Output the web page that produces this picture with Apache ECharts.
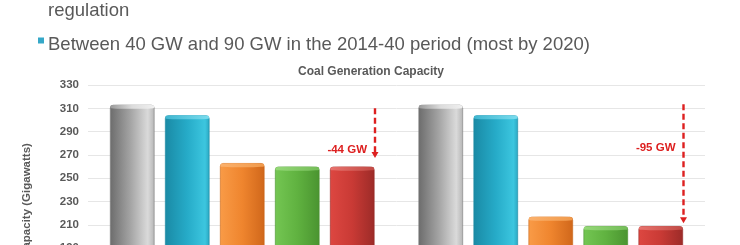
<!DOCTYPE html>
<html>
<head>
<meta charset="utf-8">
<script src="https://cdn.jsdelivr.net/npm/echarts@6/dist/echarts.min.js"></script>
<style>
html,body{margin:0;padding:0;background:#fff;}
#chart{width:740px;height:245px;}
</style>
</head>
<body>
<div id="chart"></div>
<script>
// ---- data ----
const categories = ['Scenario 1', 'Scenario 2'];
const seriesNames = ['Series A', 'Series B', 'Series C', 'Series D', 'Series E'];
const grayValues = [313, 313];
const blueValues = [304, 304];
const orangeValues = [263, 217];
const greenValues = [260, 209];
const redValues = [260, 209];
const yTicks = [190, 210, 230, 250, 270, 290, 310, 330];
const arrowTop = [310, 313.5];
const arrowTip = [267.5, 211.5];
const annotLabelY = [274.5, 276.5];
const annotLabels = ['-44 GW', '-95 GW'];
const chartTitle = 'Coal Generation Capacity';
const yAxisTitle = 'Capacity (Gigawatts)';
const bulletText = 'Between 40 GW and 90 GW in the 2014-40 period (most by 2020)';
const prevLineText = 'regulation';

// ---- styling ----
const FONT = '"Liberation Sans", Arial, Helvetica, sans-serif';
const TXT = '#595959';
const RED = '#dd2020';
const BW = 44.5, GAP = 10.5;

function hgrad(stops) {
  return new echarts.graphic.LinearGradient(0, 0, 1, 0,
    stops.map((c, i) => ({ offset: c[0], color: c[1] })));
}
const palettes = [
  { body: [[0,'#6c6c6c'],[0.45,'#a3a3a3'],[0.85,'#dadada'],[1,'#b5b5b5']], cap: [[0,'#9a9a9a'],[0.5,'#dcdcdc'],[1,'#f0f0f0']], border: '#7a7a7a' },
  { body: [[0,'#1a8aa5'],[0.5,'#26abc8'],[0.9,'#3cc6df'],[1,'#2aa6c1']], cap: [[0,'#3fb6d0'],[1,'#7adcee']], border: '#1a86a0' },
  { body: [[0,'#f99b47'],[0.5,'#ef852e'],[1,'#d0671b']], cap: [[0,'#fbb16c'],[1,'#f09a4c']], border: '#c86418' },
  { body: [[0,'#74c653'],[0.5,'#60b240'],[1,'#4a9430']], cap: [[0,'#95d878'],[1,'#74bd58']], border: '#478f2e' },
  { body: [[0,'#dd4741'],[0.5,'#c93a35'],[1,'#9c2b28']], cap: [[0,'#e8736d'],[1,'#c24a45']], border: '#962826' }
];
const allValues = [grayValues, blueValues, orangeValues, greenValues, redValues];

const barSeries = allValues.map((vals, i) => ({
  name: seriesNames[i],
  type: 'bar',
  data: vals,
  barWidth: BW,
  barGap: (GAP / BW * 100).toFixed(1) + '%',
  itemStyle: {
    color: hgrad(palettes[i].body),
    borderColor: palettes[i].border,
    borderWidth: 0.6,
    borderRadius: [3, 3, 0, 0]
  },
  z: 2
}));

const capSeries = allValues.map((vals, i) => ({
  name: seriesNames[i] + ' cap',
  type: 'pictorialBar',
  data: vals,
  barWidth: BW,
  barGap: (GAP / BW * 100).toFixed(1) + '%',
  symbol: 'roundRect',
  symbolSize: [BW - 1, 4],
  symbolPosition: 'end',
  symbolOffset: [0, 0],
  itemStyle: { color: hgrad(palettes[i].cap) },
  silent: true,
  z: 3,
  tooltip: { show: false }
}));

const arrowSeries = {
  type: 'custom',
  name: 'annotations',
  clip: false,
  z: 5,
  silent: true,
  data: categories.map((c, i) => [i, arrowTop[i], arrowTip[i], annotLabelY[i]]),
  encode: { x: 0, y: 1 },
  renderItem: function (params, api) {
    const cat = api.value(0);
    const top = api.coord([cat, api.value(1)]);
    const tip = api.coord([cat, api.value(2)]);
    const lab = api.coord([cat, api.value(3)]);
    const x = top[0] + 2 * (BW + GAP) + BW / 2 + 0.5;
    return {
      type: 'group',
      children: [
        { type: 'line', shape: { x1: x, y1: top[1], x2: x, y2: tip[1] - 5 },
          style: { stroke: RED, lineWidth: 2.4, lineDash: [6, 3.5] } },
        { type: 'polygon', shape: { points: [[x - 3.5, tip[1] - 6], [x + 3.5, tip[1] - 6], [x, tip[1]]] },
          style: { fill: RED } },
        { type: 'text', x: x - 8, y: lab[1],
          style: { text: annotLabels[params.dataIndex], fill: RED, font: 'bold 11.5px ' + FONT,
                   align: 'right', verticalAlign: 'middle' } }
      ]
    };
  }
};

const chart = echarts.init(document.getElementById('chart'), null, { renderer: 'canvas' });
chart.setOption({
  animation: false,
  backgroundColor: '#ffffff',
  title: {
    text: chartTitle,
    left: 371, top: 66, padding: 0,
    textAlign: 'center',
    textStyle: { fontSize: 12, fontWeight: 'bold', color: TXT, fontFamily: FONT, lineHeight: 12 }
  },
  grid: { left: 88, right: 35, top: 85, height: 163.3, containLabel: false, outerBoundsMode: 'none' },
  xAxis: {
    type: 'category',
    data: categories,
    axisLine: { show: false },
    axisTick: { show: false },
    axisLabel: { show: false }
  },
  yAxis: {
    type: 'value',
    min: yTicks[0],
    max: yTicks[yTicks.length - 1],
    interval: yTicks[1] - yTicks[0],
    axisLine: { show: false },
    axisTick: { show: false },
    axisLabel: { color: TXT, fontWeight: 'bold', fontSize: 11.5, fontFamily: FONT, margin: 9 },
    splitLine: { lineStyle: { color: '#e6e6e6', width: 1 } }
  },
  graphic: [
    { type: 'text', x: 48, y: 11, style: { text: prevLineText, font: '18.5px ' + FONT, fill: TXT, verticalAlign: 'middle' } },
    { type: 'rect', shape: { x: 38, y: 37.5, width: 6, height: 6 }, style: { fill: '#35a8c8' } },
    { type: 'text', x: 48, y: 45, style: { text: bulletText, font: '18.5px ' + FONT, fill: TXT, verticalAlign: 'middle' } },
    { type: 'text', x: 27, y: 200, rotation: Math.PI / 2,
      style: { text: yAxisTitle, font: 'bold 11.5px ' + FONT, fill: TXT, align: 'center', verticalAlign: 'middle' } }
  ],
  series: barSeries.concat(capSeries).concat([arrowSeries])
});
</script>
</body>
</html>
